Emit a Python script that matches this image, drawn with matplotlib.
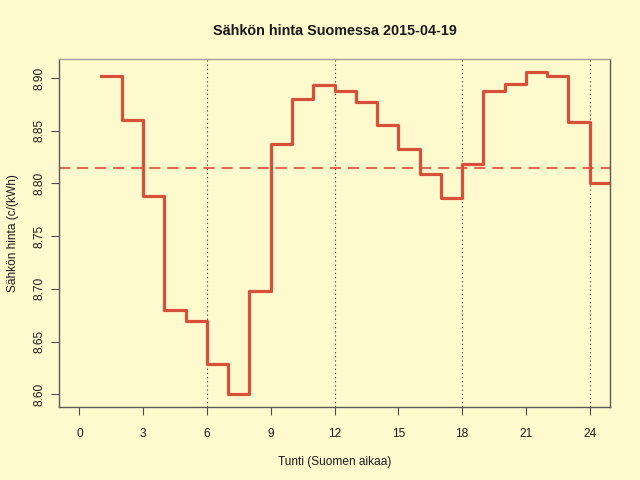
import matplotlib
matplotlib.use("Agg")
import matplotlib.pyplot as plt

# hourly spot price, c/kWh (hour ending 1..24, last step repeated to 25)
hours = list(range(1, 26))
price = [8.902, 8.860, 8.788, 8.680, 8.670, 8.629, 8.600, 8.698, 8.837, 8.880,
         8.8935, 8.888, 8.877, 8.855, 8.8325, 8.809, 8.786, 8.818, 8.888, 8.894,
         8.9055, 8.902, 8.858, 8.800, 8.800]
mean_price = 8.8145
guide_hours = [6, 12, 18, 24]
xticks = [0, 3, 6, 9, 12, 15, 18, 21, 24]
yticks = [8.60, 8.65, 8.70, 8.75, 8.80, 8.85, 8.90]

plt.rcParams["font.family"] = ["Liberation Sans", "DejaVu Sans"]
plt.rcParams["lines.scale_dashes"] = False
BG = "#FFFACD"
RED = "#D6503A"

fig = plt.figure(figsize=(6.4, 4.8), dpi=100, facecolor=BG)
ax = fig.add_axes([59/640, 73/480, 551/640, 348/480], facecolor=BG)

for h in guide_hours:
    ax.axvline(h, color="0.35", lw=0.8, ls=(0, (1, 2)), zorder=1)
ax.axhline(mean_price, color="#E06A55", lw=1.5, ls=(0, (8, 5)), zorder=2)
ax.step(hours, price, where="post", color=RED, lw=2.3, zorder=3)

ax.set_xlim(-0.96, 24.96)
ax.set_ylim(8.588, 8.918)
ax.set_xticks(xticks)
ax.set_xticklabels([str(t) for t in xticks])
ax.set_yticks(yticks)
ax.set_yticklabels([f"{t:.2f}" for t in yticks], rotation=90, va="center")
ax.tick_params(axis="both", direction="out", length=6, width=0.8, color="0.3",
               labelsize=8.6, labelcolor="0.1")
ax.tick_params(axis="x", pad=9)
ax.tick_params(axis="y", pad=4)
for s in ["left", "bottom", "right"]:
    ax.spines[s].set_color("0.35")
    ax.spines[s].set_linewidth(1.0)
ax.spines["top"].set_color("0.62")
ax.spines["top"].set_linewidth(1.0)

ax.set_xlabel("Tunti (Suomen aikaa)", fontsize=8.6, color="0.1", labelpad=12)
ax.set_ylabel("Sähkön hinta (c/(kWh)", fontsize=8.6, color="0.1", labelpad=10)
fig.text(334.5/640, 1 - 31/480, "Sähkön hinta Suomessa 2015-04-19", ha="center", va="center",
         fontsize=10.4, fontweight="bold", color="0.1")

fig.savefig("out.png", dpi=100, facecolor=BG)
